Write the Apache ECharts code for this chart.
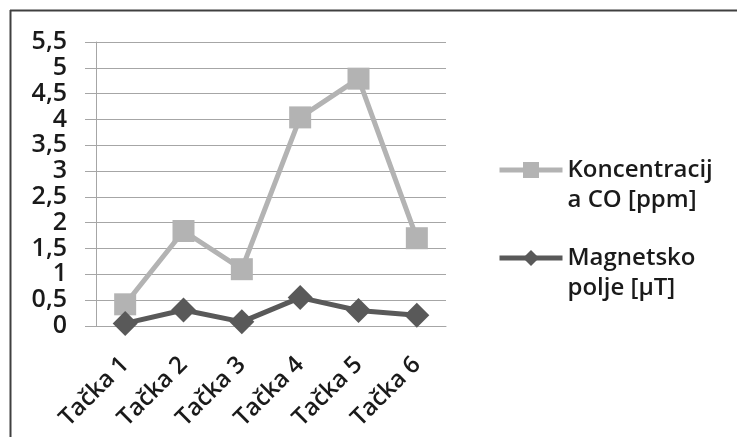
<!DOCTYPE html>
<html>
<head>
<meta charset="utf-8">
<script src="https://cdn.jsdelivr.net/npm/echarts@6/dist/echarts.min.js"></script>
<style>
html,body{margin:0;padding:0;background:#fff;}
#c{width:737px;height:437px;}
</style>
</head>
<body>
<div id="c"></div>
<script>
const categories = ['Tačka 1', 'Tačka 2', 'Tačka 3', 'Tačka 4', 'Tačka 5', 'Tačka 6'];
const coValues = [0.42, 1.84, 1.10, 4.04, 4.79, 1.70];
const magValues = [0.05, 0.31, 0.08, 0.55, 0.30, 0.21];
const seriesNames = ['Koncentracija CO [ppm]', 'Magnetsko polje [µT]'];
const legendLabels = ['Koncentracij\na CO [ppm]', 'Magnetsko\npolje [µT]'];

const FONT = 'Open Sans';
const WEIGHT = 600;
const chart = echarts.init(document.getElementById('c'));
chart.setOption({
  animation: false,
  backgroundColor: '#fff',
  grid: { left: 96, right: 291, top: 42, bottom: 111 },
  legend: {
    orient: 'vertical',
    left: 492,
    top: 120,
    itemWidth: 63,
    itemHeight: 20,
    itemGap: -2,
    data: seriesNames,
    lineStyle: { width: 5 },
    formatter: function (name) { return ' \n' + legendLabels[seriesNames.indexOf(name)]; },
    textStyle: { fontFamily: FONT, fontSize: 24, fontWeight: WEIGHT, color: '#1a1a1a', lineHeight: 30 }
  },
  xAxis: {
    type: 'category',
    data: categories,
    axisLine: { lineStyle: { color: '#a6a6a6', width: 1 } },
    axisTick: { length: 8, lineStyle: { color: '#a6a6a6' } },
    axisLabel: { rotate: 45, margin: 35, fontFamily: FONT, fontSize: 24, fontWeight: WEIGHT, color: '#1a1a1a', interval: 0 },
    splitLine: { show: false }
  },
  yAxis: {
    type: 'value',
    min: 0, max: 5.5, interval: 0.5,
    axisLine: { show: true, lineStyle: { color: '#a6a6a6', width: 1 } },
    axisTick: { show: true, length: 11, lineStyle: { color: '#a6a6a6' } },
    axisLabel: { margin: 29, fontFamily: FONT, fontSize: 25, fontWeight: WEIGHT, color: '#1a1a1a',
      formatter: function (v) { return String(v).replace('.', ','); } },
    splitLine: { lineStyle: { color: '#a6a6a6', width: 1 } }
  },
  series: [
    {
      name: seriesNames[0], type: 'line', data: coValues,
      symbol: 'rect', symbolSize: 22,
      lineStyle: { color: '#b3b3b3', width: 5 },
      itemStyle: { color: '#b3b3b3' }
    },
    {
      name: seriesNames[1], type: 'line', data: magValues,
      symbol: 'diamond', symbolSize: 25,
      lineStyle: { color: '#595959', width: 5 },
      itemStyle: { color: '#595959' }
    }
  ],
  graphic: [
    { type: 'line', shape: { x1: 10, y1: 10.5, x2: 737, y2: 10.5 }, style: { stroke: '#404040', lineWidth: 2 } },
    { type: 'line', shape: { x1: 10.5, y1: 10, x2: 10.5, y2: 437 }, style: { stroke: '#404040', lineWidth: 2 } }
  ]
});
</script>
</body>
</html>
